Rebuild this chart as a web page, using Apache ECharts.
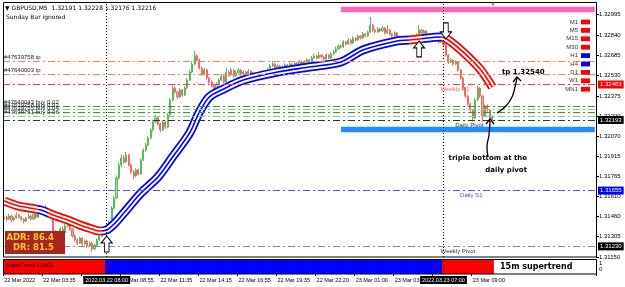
<!DOCTYPE html>
<html>
<head>
<meta charset="utf-8">
<script src="https://cdn.jsdelivr.net/npm/echarts@6/dist/echarts.min.js"></script>
<style>
html, body { margin: 0; padding: 0; background: #fff; }
#chart { width: 625px; height: 287px; }
</style>
</head>
<body>
<div id="chart"></div>
<script>
// GBPUSD M5 (resampled), each row: [open, close, low, high]
var candles = [
[1.31440,1.31453,1.31425,1.31470],[1.31453,1.31438,1.31420,1.31465],[1.31438,1.31461,1.31430,1.31480],[1.31461,1.31431,1.31415,1.31472],
[1.31431,1.31446,1.31422,1.31458],[1.31446,1.31469,1.31440,1.31490],[1.31469,1.31453,1.31441,1.31478],[1.31453,1.31438,1.31425,1.31462],
[1.31438,1.31423,1.31405,1.31447],[1.31423,1.31446,1.31415,1.31455],[1.31446,1.31461,1.31438,1.31482],[1.31461,1.31438,1.31428,1.31470],
[1.31438,1.31476,1.31432,1.31492],[1.31476,1.31453,1.31440,1.31485],[1.31453,1.31492,1.31446,1.31505],[1.31492,1.31507,1.31480,1.31530],
[1.31507,1.31484,1.31470,1.31518],[1.31484,1.31514,1.31478,1.31545],[1.31514,1.31499,1.31488,1.31525],[1.31499,1.31476,1.31462,1.31510],
[1.31476,1.31309,1.31295,1.31485],[1.31309,1.31339,1.31290,1.31352],[1.31339,1.31293,1.31278,1.31350],[1.31293,1.31362,1.31285,1.31375],
[1.31362,1.31332,1.31320,1.31380],[1.31332,1.31385,1.31325,1.31400],[1.31385,1.31431,1.31375,1.31455],[1.31431,1.31362,1.31350,1.31440],
[1.31362,1.31309,1.31295,1.31370],[1.31309,1.31278,1.31265,1.31322],[1.31278,1.31255,1.31240,1.31290],[1.31255,1.31293,1.31248,1.31305],
[1.31293,1.31248,1.31235,1.31300],[1.31248,1.31271,1.31240,1.31285],[1.31271,1.31232,1.31220,1.31280],[1.31232,1.31255,1.31225,1.31270],
[1.31255,1.31210,1.31190,1.31262],[1.31210,1.31240,1.31200,1.31252],[1.31240,1.31278,1.31232,1.31290],[1.31278,1.31309,1.31270,1.31320],
[1.31309,1.31339,1.31300,1.31350],[1.31339,1.31370,1.31330,1.31385],[1.31370,1.31385,1.31360,1.31400],[1.31385,1.31415,1.31375,1.31430],
[1.31415,1.31522,1.31410,1.31535],[1.31522,1.31598,1.31510,1.31615],[1.31598,1.31751,1.31590,1.31770],[1.31751,1.31850,1.31740,1.31870],
[1.31850,1.31903,1.31835,1.31930],[1.31903,1.31873,1.31860,1.31925],[1.31873,1.31926,1.31865,1.31950],[1.31926,1.31850,1.31840,1.31935],
[1.31850,1.31796,1.31785,1.31860],[1.31796,1.31766,1.31740,1.31810],[1.31766,1.31812,1.31755,1.31825],[1.31812,1.31781,1.31770,1.31822],
[1.31781,1.31888,1.31775,1.31900],[1.31888,1.31964,1.31880,1.31975],[1.31964,1.32002,1.31950,1.32020],[1.32002,1.32055,1.31995,1.32070],
[1.32055,1.32116,1.32045,1.32130],[1.32116,1.32177,1.32105,1.32190],[1.32177,1.32208,1.32168,1.32235],[1.32208,1.32162,1.32150,1.32215],
[1.32162,1.32116,1.32100,1.32170],[1.32116,1.32177,1.32110,1.32190],[1.32177,1.32139,1.32125,1.32185],[1.32139,1.32231,1.32130,1.32245],
[1.32231,1.32345,1.32225,1.32360],[1.32345,1.32436,1.32335,1.32455],[1.32436,1.32406,1.32395,1.32448],[1.32406,1.32368,1.32350,1.32415],
[1.32368,1.32421,1.32360,1.32435],[1.32421,1.32383,1.32370,1.32430],[1.32383,1.32436,1.32375,1.32450],[1.32436,1.32497,1.32428,1.32510],
[1.32497,1.32558,1.32490,1.32575],[1.32558,1.32619,1.32550,1.32640],[1.32619,1.32680,1.32610,1.32720],[1.32680,1.32650,1.32640,1.32695],
[1.32650,1.32589,1.32578,1.32660],[1.32589,1.32543,1.32530,1.32600],[1.32543,1.32574,1.32535,1.32590],[1.32574,1.32513,1.32500,1.32582],
[1.32513,1.32482,1.32470,1.32520],[1.32482,1.32452,1.32440,1.32495],[1.32452,1.32421,1.32405,1.32460],[1.32421,1.32467,1.32415,1.32480],
[1.32467,1.32497,1.32455,1.32510],[1.32497,1.32528,1.32490,1.32545],[1.32528,1.32482,1.32470,1.32535],[1.32482,1.32558,1.32475,1.32590],
[1.32558,1.32535,1.32522,1.32570],[1.32535,1.32574,1.32528,1.32588],[1.32574,1.32528,1.32515,1.32582],[1.32528,1.32551,1.32520,1.32565],
[1.32551,1.32574,1.32545,1.32590],[1.32574,1.32543,1.32530,1.32580],[1.32543,1.32558,1.32535,1.32570],[1.32558,1.32528,1.32515,1.32565],
[1.32528,1.32566,1.32520,1.32580],[1.32566,1.32551,1.32540,1.32575],[1.32551,1.32535,1.32525,1.32560],[1.32535,1.32520,1.32505,1.32545],
[1.32520,1.32543,1.32512,1.32555],[1.32543,1.32528,1.32518,1.32552],[1.32528,1.32558,1.32520,1.32570],[1.32558,1.32535,1.32525,1.32566],
[1.32535,1.32574,1.32530,1.32590],[1.32574,1.32604,1.32565,1.32620],[1.32604,1.32619,1.32595,1.32640],[1.32619,1.32589,1.32580,1.32628],
[1.32589,1.32604,1.32578,1.32615],[1.32604,1.32574,1.32565,1.32612],[1.32574,1.32596,1.32568,1.32610],[1.32596,1.32612,1.32590,1.32625],
[1.32612,1.32589,1.32580,1.32620],[1.32589,1.32619,1.32582,1.32632],[1.32619,1.32604,1.32595,1.32625],[1.32604,1.32627,1.32598,1.32640],
[1.32627,1.32612,1.32600,1.32635],[1.32612,1.32635,1.32605,1.32650],[1.32635,1.32619,1.32610,1.32645],[1.32619,1.32635,1.32612,1.32648],
[1.32635,1.32650,1.32628,1.32662],[1.32650,1.32627,1.32618,1.32658],[1.32627,1.32665,1.32620,1.32680],[1.32665,1.32680,1.32658,1.32700],
[1.32680,1.32665,1.32655,1.32690],[1.32665,1.32688,1.32660,1.32712],[1.32688,1.32673,1.32662,1.32695],[1.32673,1.32657,1.32645,1.32680],
[1.32657,1.32688,1.32650,1.32700],[1.32688,1.32665,1.32655,1.32695],[1.32665,1.32696,1.32658,1.32710],[1.32696,1.32711,1.32688,1.32725],
[1.32711,1.32734,1.32705,1.32750],[1.32734,1.32756,1.32728,1.32770],[1.32756,1.32749,1.32738,1.32768],[1.32749,1.32787,1.32742,1.32800],
[1.32787,1.32772,1.32760,1.32795],[1.32772,1.32802,1.32765,1.32815],[1.32802,1.32779,1.32768,1.32810],[1.32779,1.32817,1.32772,1.32830],
[1.32817,1.32802,1.32790,1.32825],[1.32802,1.32833,1.32795,1.32845],[1.32833,1.32817,1.32805,1.32840],[1.32817,1.32848,1.32810,1.32862],
[1.32848,1.32833,1.32822,1.32855],[1.32833,1.32863,1.32825,1.32875],[1.32863,1.32916,1.32855,1.32977],[1.32916,1.32878,1.32865,1.32925],
[1.32878,1.32863,1.32850,1.32888],[1.32863,1.32886,1.32855,1.32900],[1.32886,1.32871,1.32860,1.32895],[1.32871,1.32894,1.32865,1.32908],
[1.32894,1.32856,1.32845,1.32900],[1.32856,1.32878,1.32848,1.32916],[1.32878,1.32848,1.32838,1.32885],[1.32848,1.32833,1.32822,1.32855],
[1.32833,1.32856,1.32825,1.32868],[1.32856,1.32825,1.32815,1.32862],[1.32825,1.32817,1.32805,1.32835],[1.32817,1.32802,1.32790,1.32825],
[1.32802,1.32817,1.32795,1.32828],[1.32817,1.32795,1.32782,1.32822],[1.32795,1.32810,1.32788,1.32820],[1.32810,1.32787,1.32775,1.32818],
[1.32787,1.32817,1.32780,1.32828],[1.32817,1.32840,1.32810,1.32852],[1.32840,1.32878,1.32832,1.32916],[1.32878,1.32856,1.32845,1.32885],
[1.32856,1.32871,1.32850,1.32882],[1.32871,1.32840,1.32830,1.32878],[1.32840,1.32817,1.32805,1.32848],[1.32817,1.32833,1.32810,1.32845],
[1.32833,1.32802,1.32790,1.32840],[1.32802,1.32817,1.32795,1.32828],[1.32817,1.32787,1.32775,1.32825],[1.32787,1.32802,1.32780,1.32815],
[1.32802,1.32764,1.32750,1.32812],[1.32764,1.32688,1.32675,1.32770],[1.32688,1.32635,1.32620,1.32695],[1.32635,1.32650,1.32625,1.32665],
[1.32650,1.32619,1.32605,1.32658],[1.32619,1.32635,1.32610,1.32648],[1.32635,1.32574,1.32560,1.32640],[1.32574,1.32513,1.32500,1.32580],
[1.32513,1.32436,1.32420,1.32520],[1.32436,1.32375,1.32360,1.32445],[1.32375,1.32315,1.32300,1.32385],[1.32315,1.32269,1.32255,1.32325],
[1.32269,1.32208,1.32182,1.32278],[1.32208,1.32345,1.32200,1.32360],[1.32345,1.32436,1.32335,1.32455],[1.32436,1.32375,1.32362,1.32445],
[1.32375,1.32223,1.32180,1.32382],[1.32223,1.32299,1.32215,1.32310],[1.32299,1.32269,1.32255,1.32312],[1.32269,1.32191,1.32180,1.32278],
[1.32191,1.32216,1.32176,1.32228]
];

// moving average ribbon midline: [bar index, price]
var ribbon = [[0,1.31575],[6,1.31537],[15,1.31507],[20,1.31469],[26,1.31431],[31,1.31393],[36,1.31362],
  [39,1.31347],[42,1.31355],[45,1.31400],[49,1.31484],[56,1.31636],[63,1.31758],[69,1.31911],[76,1.32094],
  [80,1.32254],[84,1.32368],[89,1.32421],[98,1.32497],[112,1.32558],[125,1.32596],[138,1.32635],[147,1.32726],
  [161,1.32795],[166,1.32802],[170,1.32810],[179,1.32825],[182,1.32802],[188,1.32711],[195,1.32581],[200,1.32444]];
// ribbon trend segments: [from bar, to bar, direction]
var ribbonTrend = [[0,14,-1],[14,18,1],[18,40,-1],[40,166,1],[166,171,-1],[171,179,1],[179,243,-1]];
// 15m supertrend segments
var superTrend = [[0,41,-1],[42,179,1],[180,200,-1]];

var timeLabels = ['22 Mar 2022','22 Mar 03:35','','22 Mar 08:55','22 Mar 11:35','22 Mar 14:15','22 Mar 16:55',
  '22 Mar 19:35','22 Mar 22:20','23 Mar 01:00','23 Mar 03:40','','23 Mar 09:00'];
var priceTicks = [1.32995,1.32840,1.32685,1.32530,1.32375,1.32220,1.32070,1.31915,1.31765,1.31610,1.31460,1.31305,1.31150];

var pivotNames = ['Weekly R1','Daily Pivot','Daily S1','Weekly Pivot'];
var pivotPrices = [1.32463,1.32193,1.31655,1.31230];
var orderNames = ['#47639758 tp','#47640003 tp','#47640043 buy 0.02','#47639758 buy 0.02','#47639755 buy 0.04','#47639751 buy 0.06'];
var orderPrices = [1.32642,1.32540,1.32300,1.32272,1.32248,1.32222];
var zones = [[1.33056,1.33013],[1.32142,1.32099]];
var arrowMarks = [[42,1.31248,1],[170,1.32734,1],[181,1.32871,-1]];
var sepIdx = [42,180];
var sepLabels = ['2022.03.22 08:00','2022.03.23 07:00'];
var tfNames = ['M1','M5','M15','M30','H1','H4','D1','W1','MN1'];
var tfTrend = [-1,-1,-1,-1,1,1,-1,-1,-1];
var adr = 86.4, dr = 81.5;

var RED = '#ff0000', BLUE = '#0000ff';
var nSlots = 243;
var cats = [];
for (var i = 0; i < nSlots; i++) cats.push(String(i));

var dashDot = [7, 3, 2, 3];
var pivotStyle = {
	'Weekly R1': { line: '#ff3b3b', tag: '#ff0000', text: '#ff5a5a', at: 178 },
	'Daily Pivot': { line: '#333333', tag: '#000000', text: '#333333', at: 184 },
	'Daily S1': { line: '#4d4dff', tag: '#0000ff', text: '#4d4dff', at: 186 },
	'Weekly Pivot': { line: '#8c8c8c', tag: '#000000', text: '#333333', at: 178 }
};

var hLines = [];
pivotNames.forEach(function(n, k) {
	var s = pivotStyle[n];
	hLines.push({
		yAxis: pivotPrices[k],
		lineStyle: { color: s.line, type: dashDot, width: 1 },
		label: { show: true, position: 'end', distance: 2, formatter: pivotPrices[k].toFixed(5),
			backgroundColor: s.tag, color: '#fff', fontSize: 6, fontFamily: 'Liberation Sans', padding: [1, 2, 1, 2] }
	});
	hLines.push([{
		coord: [s.at, pivotPrices[k]],
		lineStyle: { color: 'rgba(0,0,0,0)', width: 1 },
		label: { show: true, position: 'insideStartBottom', distance: 2, formatter: n, color: s.text,
			fontSize: 6, fontFamily: 'Liberation Sans' }
	}, { coord: [s.at + 20, pivotPrices[k]] }]);
});
orderNames.forEach(function(n, k) {
	var tp = n.indexOf('tp') > 0;
	hLines.push({
		yAxis: orderPrices[k],
		lineStyle: { color: tp ? '#ff7f55' : (k % 2 ? '#7fd07f' : '#2e9a2e'), type: dashDot, width: tp ? 1 : 1.2 },
		label: { show: true, position: 'insideStartTop', distance: 1, formatter: n, color: '#222',
			fontSize: 6, fontFamily: 'Liberation Sans' }
	});
});
var vLines = sepIdx.map(function(x) {
	return { xAxis: x, lineStyle: { color: '#000', type: [1, 2], width: 1 }, label: { show: false } };
});

var upPath = 'path://M6,0 L12,7 L8.5,7 L8.5,16 L3.5,16 L3.5,7 L0,7 Z';
var dnPath = 'path://M3.5,0 L8.5,0 L8.5,9 L12,9 L6,16 L0,9 L3.5,9 Z';

function stDir(i) {
	for (var k = 0; k < superTrend.length; k++)
		if (i >= superTrend[k][0] && i <= superTrend[k][1]) return superTrend[k][2];
	return 0;
}
var stData = candles.map(function(c, i) {
	return { value: 1, itemStyle: { color: stDir(i) > 0 ? BLUE : RED } };
});

var last = candles[candles.length - 1];
function txt(x, y, s, font, fill, align, z) {
	return { type: 'text', x: x, y: y, z: z || 60, style: { text: s, font: font, fill: fill,
		align: align, verticalAlign: 'middle', textAlign: align, textVerticalAlign: 'middle' } };
}
var g = [];
g.push({ type: 'rect', shape: { x: 3.5, y: 2.5, width: 593, height: 254.5 }, style: { fill: 'none', stroke: '#000', lineWidth: 1 }, z: 50 });
g.push({ type: 'rect', shape: { x: 3.5, y: 259.5, width: 593, height: 14.5 }, style: { fill: 'none', stroke: '#000', lineWidth: 1 }, z: 50 });
g.push(txt(5, 8, '\u25BC GBPUSD,M5  ' + last[0].toFixed(5) + ' ' + last[3].toFixed(5) + ' ' + last[2].toFixed(5) + ' ' + last[1].toFixed(5), '6px "DejaVu Sans"', '#000', 'left'));
g.push(txt(6, 17, 'Sunday Bar ignored', '6px "DejaVu Sans"', '#000', 'left'));
g.push(txt(493, 5, '\u25BC', '5px "DejaVu Sans"', '#999', 'center'));
tfNames.forEach(function(n, k) {
	var y = 22 + k * 8.4;
	g.push(txt(578, y, n, '6px "Liberation Sans"', '#333', 'right'));
	g.push({ type: 'rect', z: 60, shape: { x: 581, y: y - 2.4, width: 9, height: 4.8 }, style: { fill: tfTrend[k] > 0 ? BLUE : RED } });
});
g.push({ type: 'rect', z: 60, shape: { x: 5, y: 231, width: 60, height: 23 }, style: { fill: '#a8261f' } });
g.push(txt(54, 238, 'ADR: ' + adr.toFixed(1), 'bold 8.5px "DejaVu Sans"', '#ffc93c', 'right', 61));
g.push(txt(54, 248, 'DR: ' + dr.toFixed(1), 'bold 8.5px "DejaVu Sans"', '#ffc93c', 'right', 61));
g.push(txt(502, 72, 'tp ' + orderPrices[1].toFixed(5), 'bold 7px "DejaVu Sans"', '#000', 'left'));
g.push(txt(527, 158, 'triple bottom at the', 'bold 7px "DejaVu Sans"', '#000', 'right'));
g.push(txt(527, 170, 'daily pivot', 'bold 7px "DejaVu Sans"', '#000', 'right'));
g.push({ type: 'polyline', z: 60, shape: { points: [[497, 113], [506, 106], [512, 97], [515, 87], [517, 78]], smooth: 0.4 }, style: { stroke: '#000', lineWidth: 1.3, fill: null } });
g.push({ type: 'polyline', z: 60, shape: { points: [[513, 82], [517, 77], [521, 81]] }, style: { stroke: '#000', lineWidth: 1.3, fill: null } });
g.push({ type: 'polyline', z: 60, shape: { points: [[488, 157], [487, 146], [489, 135], [490, 121]], smooth: 0.4 }, style: { stroke: '#000', lineWidth: 1.3, fill: null } });
g.push({ type: 'polyline', z: 60, shape: { points: [[486, 124], [490, 119], [494, 124]] }, style: { stroke: '#000', lineWidth: 1.3, fill: null } });
g.push(txt(6, 265.5, 'SuperTrend 1.0000', '5.5px "Liberation Sans"', '#000', 'left'));
g.push(txt(500, 267, '15m supertrend', 'bold 8px "DejaVu Sans"', '#000', 'left'));
g.push(txt(599, 263.5, '1', '6px "Liberation Sans"', '#000', 'left'));
g.push(txt(599, 269.5, '0', '6px "Liberation Sans"', '#000', 'left'));

function showTime(idx) { return idx % 16 === 0 && idx / 16 < timeLabels.length; }

var chart = echarts.init(document.getElementById('chart'));
var option = {
	animation: false,
	backgroundColor: '#fff',
	grid: [
		{ left: 3, right: 29, top: 3, bottom: 30 },
		{ left: 3, right: 29, top: 260, bottom: 13 }
	],
	xAxis: [
		{ type: 'category', gridIndex: 0, data: cats, boundaryGap: true, show: false },
		{ type: 'category', gridIndex: 1, data: cats, boundaryGap: true,
			axisLine: { show: false },
			axisTick: { show: true, length: 2, interval: showTime, lineStyle: { color: '#000' } },
			axisLabel: { show: true, interval: showTime, align: 'left', margin: 3, fontSize: 5.5,
				fontFamily: 'Liberation Sans', color: '#000',
				formatter: function(v, idx) { return timeLabels[idx / 16] || ''; } } }
	],
	yAxis: [
		{ type: 'value', gridIndex: 0, position: 'right', min: 1.31149, max: 1.33084, splitLine: { show: false },
			axisLine: { show: true, lineStyle: { color: '#000' } },
			axisTick: { show: true, length: 3, customValues: priceTicks, lineStyle: { color: '#000' } },
			axisLabel: { show: true, customValues: priceTicks, margin: 3, fontSize: 6, fontFamily: 'Liberation Sans', color: '#000',
				formatter: function(v) { return v.toFixed(5); } } },
		{ type: 'value', gridIndex: 1, min: 0, max: 1, show: false }
	],
	visualMap: {
		type: 'piecewise', show: false, dimension: 0, seriesIndex: [1, 3],
		pieces: ribbonTrend.map(function(t) { return { gte: t[0], lt: t[1], color: t[2] > 0 ? BLUE : RED }; })
	},
	graphic: g,
	series: [
		{
			type: 'candlestick', xAxisIndex: 0, yAxisIndex: 0, data: candles, barWidth: 1.6, z: 2,
			itemStyle: { color: '#a6dfa6', color0: '#ffa3a3', borderColor: '#5cb85c', borderColor0: '#ff6464', borderWidth: 1 },
			markLine: { symbol: 'none', silent: true, animation: false, precision: 5, data: vLines },
			markArea: { silent: true, data: zones.map(function(z) {
				return [{ xAxis: 138, yAxis: z[0], itemStyle: { color: z[0] > 1.33 ? '#ff66bb' : '#1e8fff' } }, { xAxis: nSlots - 1, yAxis: z[1] }];
			}) },
			markPoint: { silent: true, label: { show: false }, data: arrowMarks.map(function(a) {
				return { coord: [a[0], a[1]], symbol: a[2] > 0 ? upPath : dnPath, symbolSize: [11, 16],
					itemStyle: { color: '#fff', borderColor: '#000', borderWidth: 1 } };
			}) }
		},
		{ type: 'line', xAxisIndex: 0, yAxisIndex: 0, data: ribbon, smooth: 0.3, symbol: 'none', z: 3,
			lineStyle: { width: 9 } },
		{ type: 'line', xAxisIndex: 0, yAxisIndex: 0, data: ribbon, smooth: 0.3, symbol: 'none', z: 3,
			lineStyle: { width: 5.5, color: '#fff' },
			markLine: { symbol: 'none', silent: true, animation: false, precision: 5, data: hLines } },
		{ type: 'line', xAxisIndex: 0, yAxisIndex: 0, data: ribbon, smooth: 0.3, symbol: 'none', z: 3,
			lineStyle: { width: 1.6 } },
		{
			type: 'bar', xAxisIndex: 1, yAxisIndex: 1, data: stData, barWidth: 3.2, silent: true,
			markLine: { symbol: 'none', silent: true, animation: false, data: sepIdx.map(function(x, k) {
				return { xAxis: x, lineStyle: { color: '#000', type: [1, 2], width: 1 },
					label: { show: true, position: 'start', distance: 2, formatter: sepLabels[k], backgroundColor: '#000',
						color: '#fff', fontSize: 5.5, fontFamily: 'Liberation Sans', padding: [1, 2, 1, 2] } };
			}) }
		}
	]
};
chart.setOption(option);
</script>
</body>
</html>
